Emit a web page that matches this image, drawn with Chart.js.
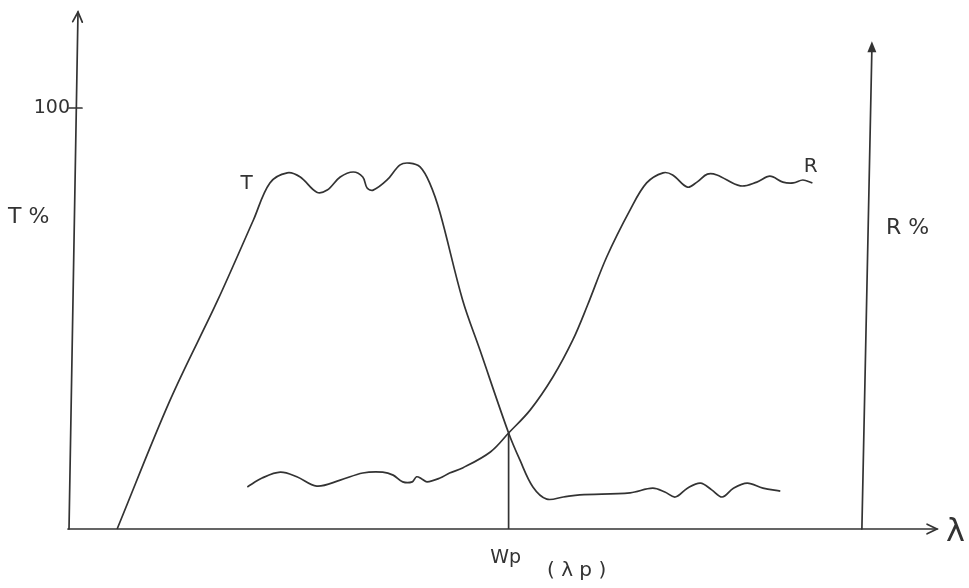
<!DOCTYPE html>
<html>
<head>
<meta charset="utf-8">
<title>T / R vs wavelength</title>
<script src="https://cdn.jsdelivr.net/npm/chart.js@4.4.1/dist/chart.umd.min.js"></script>
<style>
  html, body { margin: 0; padding: 0; background: #fff; }
  #wrap { width: 969px; height: 588px; }
</style>
</head>
<body>
<div id="wrap"><canvas id="spectra"></canvas></div>
<script>
// transmission curve T (lambda in arbitrary units, T in %)
const lambdaT = [5.2, 11.3, 16.8, 20.9, 22.8, 24.8, 26.3, 28.2, 29.4, 30.9, 32.4, 33.5, 34.0, 34.7,
  36.3, 37.8, 38.9, 40.1, 41.2, 42.4, 45.0, 47.0, 50.3, 51.6, 53.1, 54.7, 56.6, 58.5, 64.3,
  66.9, 68.3, 69.5, 70.9, 72.4, 73.7, 74.9, 76.2, 77.8, 79.6, 81.6];
const transT = [0, 30.6, 54.4, 73.4, 82.2, 84.6, 83.6, 80.0, 80.5, 83.6, 84.8, 83.6, 81.0, 80.5,
  82.9, 86.5, 86.9, 86.0, 82.2, 75.1, 54.4, 42.5, 22.8, 16.4, 10.0, 7.1, 7.6, 8.1, 8.6,
  9.7, 8.8, 7.6, 9.7, 10.9, 9.3, 7.6, 9.7, 10.9, 9.7, 9.0];

// reflection curve R
const lambdaR = [20.2, 21.9, 24.0, 25.9, 28.2, 30.9, 33.5, 35.8, 37.0, 38.1, 39.2, 39.7, 40.3, 40.9, 42.4, 43.5,
  45.0, 48.2, 50.3, 52.8, 55.4, 57.7, 59.4, 61.6, 64.3, 66.2, 68.1, 69.2, 70.9, 72.0, 73.2, 74.3, 77.0, 78.9,
  80.4, 81.9, 83.1, 84.2, 85.3];
const reflR = [10.0, 12.1, 13.5, 12.4, 10.2, 11.6, 13.3, 13.5, 12.8, 11.2, 11.2, 12.4, 11.9, 11.2, 12.1, 13.3,
  14.5, 18.3, 22.8, 28.3, 36.1, 44.9, 53.2, 64.6, 75.8, 82.2, 84.6, 84.1, 81.2, 82.4, 84.3, 84.1, 81.5, 82.4,
  83.8, 82.4, 82.2, 82.9, 82.2];

// crossing point (lambda_p) and axis extents
const lambdaP = 50.3;
const crossValue = 22.8;
const yTicks = [100];
const rightAxisAt = 91;
const rightAxisTop = 115.4;

const ink = '#333';
const inkFont = '"DejaVu Sans", "Liberation Sans", sans-serif';

function pts(xs, ys) {
  return xs.map((v, i) => ({ x: v, y: ys[i] }));
}

function arrowOpen(ctx, x, y, dx, dy, size) {
  // open "V" head pointing along (dx, dy)
  const a = Math.atan2(dy, dx);
  ctx.beginPath();
  ctx.moveTo(x - size * Math.cos(a - 0.45), y - size * Math.sin(a - 0.45));
  ctx.lineTo(x, y);
  ctx.lineTo(x - size * Math.cos(a + 0.45), y - size * Math.sin(a + 0.45));
  ctx.stroke();
}

const sketchAxes = {
  id: 'sketchAxes',
  beforeDatasetsDraw(chart) {
    const { ctx, scales: { x, y } } = chart;
    const x0 = x.getPixelForValue(0);
    const y0 = y.getPixelForValue(0);
    ctx.save();
    ctx.strokeStyle = ink;
    ctx.fillStyle = ink;
    ctx.lineWidth = 1.7;
    ctx.lineCap = 'round';

    // left axis (T %)
    const yTop = y.getPixelForValue(y.max);
    ctx.beginPath();
    ctx.moveTo(x0 - 3, y0);
    ctx.lineTo(x0 + 6, yTop);
    ctx.stroke();
    arrowOpen(ctx, x0 + 6, yTop, 0.05, -1, 11);

    // x axis (lambda)
    const xEnd = x.getPixelForValue(x.max) - 3;
    ctx.beginPath();
    ctx.moveTo(x0 - 4, y0);
    ctx.lineTo(xEnd, y0);
    ctx.stroke();
    arrowOpen(ctx, xEnd, y0, 1, 0, 11);

    // right axis (R %)
    const xr = x.getPixelForValue(rightAxisAt);
    const yr = y.getPixelForValue(rightAxisTop);
    ctx.beginPath();
    ctx.moveTo(xr, y0);
    ctx.lineTo(xr + 10, yr + 6);
    ctx.stroke();
    ctx.beginPath();
    ctx.moveTo(xr + 10, yr - 2);
    ctx.lineTo(xr + 5.5, yr + 9);
    ctx.lineTo(xr + 14.5, yr + 9);
    ctx.closePath();
    ctx.fill();

    // tick marks and labels on the T axis
    ctx.font = '19px ' + inkFont;
    ctx.textAlign = 'right';
    ctx.textBaseline = 'middle';
    yTicks.forEach(v => {
      const py = y.getPixelForValue(v);
      ctx.beginPath();
      ctx.moveTo(x0 - 3, py);
      ctx.lineTo(x0 + 10, py);
      ctx.stroke();
      ctx.fillText(String(v), x0 - 2, py);
    });

    // axis titles and curve labels
    ctx.textAlign = 'left';
    ctx.font = '22px ' + inkFont;
    ctx.fillText('T %', 8, y.getPixelForValue(74));
    ctx.fillText('R %', xr + 24, y.getPixelForValue(71.5));
    ctx.font = '20px ' + inkFont;
    ctx.fillText('T', x.getPixelForValue(19.4), y.getPixelForValue(82));
    ctx.fillText('R', x.getPixelForValue(84.3), y.getPixelForValue(86));
    ctx.font = '32px ' + inkFont;
    ctx.fillText('\u03bb', x.getPixelForValue(x.max) + 6, y0 + 4);
    ctx.font = '19px ' + inkFont;
    const xp = x.getPixelForValue(lambdaP);
    ctx.textAlign = 'center';
    ctx.fillText('Wp', xp - 3, y0 + 29);
    ctx.font = '20px ' + inkFont;
    ctx.fillText('( \u03bb p )', xp + 68, y0 + 42);
    ctx.restore();
  }
};

new Chart(document.getElementById('spectra'), {
  type: 'line',
  data: {
    datasets: [
      { label: 'T', data: pts(lambdaT, transT) },
      { label: 'R', data: pts(lambdaR, reflR) },
      { label: 'lambda p', data: [{ x: lambdaP, y: 0 }, { x: lambdaP, y: crossValue }], tension: 0 }
    ]
  },
  options: {
    responsive: true,
    maintainAspectRatio: false,
    animation: false,
    layout: { padding: { left: 72, right: 29, top: 12, bottom: 59 } },
    elements: {
      line: { borderColor: ink, borderWidth: 1.7, tension: 0.35, fill: false },
      point: { radius: 0, hoverRadius: 0 }
    },
    datasets: { line: { clip: false } },
    scales: {
      x: { type: 'linear', min: 0, max: 100, display: false },
      y: { type: 'linear', min: 0, max: 122.8, display: false }
    },
    plugins: {
      legend: { display: false },
      tooltip: { enabled: false }
    }
  },
  plugins: [sketchAxes]
});
</script>
</body>
</html>
